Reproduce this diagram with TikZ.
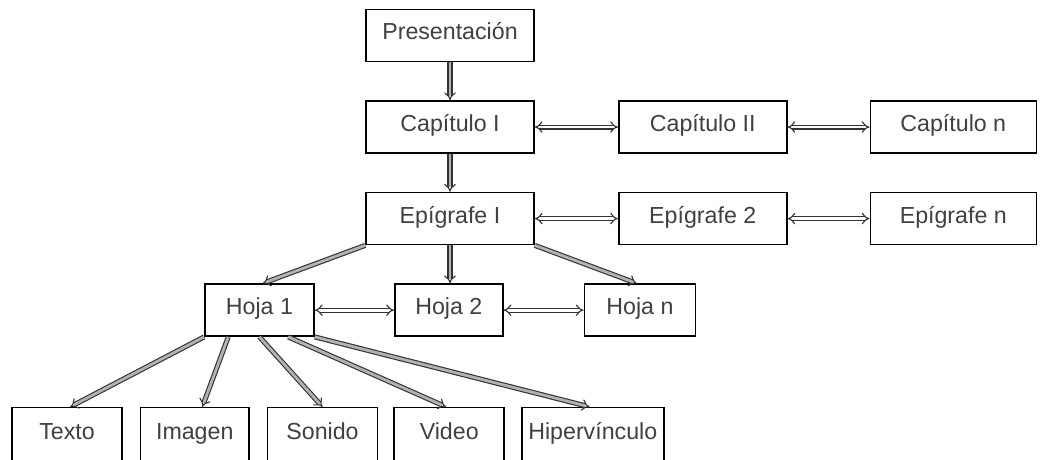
\documentclass[tikz,border=0pt]{standalone}
\usepackage{fontspec}
\setmainfont{Liberation Sans}
\usepackage{tikz}
\usetikzlibrary{arrows.meta,positioning}

\begin{document}
\begin{tikzpicture}[
      blk/.style={draw, line width=1.1pt, fill=white, text=black!75,
                  minimum width=4.2cm, minimum height=1.3cm, inner sep=0pt,
                  text height=1.6ex, text depth=0.4ex,
                  font=\fontsize{16.5}{19}\selectfont, align=center},
      hoja/.style={blk, minimum width=2.73cm},
      item/.style={blk, minimum width=2.75cm, minimum height=1.38cm},
      harr/.style={{Implies}-{Implies}, line width=0.8pt, double=white,
                   double distance=2pt, color=black!80},
      darr/.style={-{Implies}, line width=0.8pt, double=gray!60,
                   double distance=2pt, color=black!80}
  ]
    \useasboundingbox (0,0) rectangle (26,-11.475);
    % columna principal
    \node[blk] (pres) at (11.25,-0.8875) {Presentación};
    \node[blk, below=0.95cm of pres] (cap1) {Capítulo I};
    \node[blk, right=2.08cm of cap1] (cap2) {Capítulo II};
    \node[blk, right=2.05cm of cap2, minimum width=4.15cm] (capn) {Capítulo n};
    \node[blk, below=0.95cm of cap1] (epi1) {Epígrafe I};
    \node[blk, right=2.08cm of epi1] (epi2) {Epígrafe 2};
    \node[blk, right=2.05cm of epi2, minimum width=4.15cm] (epin) {Epígrafe n};
    % hojas
    \node[hoja, below=0.95cm of epi1, xshift=-0.03cm, minimum width=2.7cm] (hoja2) {Hoja 2};
    \node[hoja, left=1.98cm of hoja2] (hoja1) {Hoja 1};
    \node[hoja, right=2cm of hoja2, minimum width=2.78cm] (hojan) {Hoja n};
    % elementos
    \node[item] (texto) at (1.675,-10.88) {Texto};
    \node[item, right=0.42cm of texto, minimum width=2.72cm] (imagen) {Imagen};
    \node[item, right=0.42cm of imagen] (sonido) {Sonido};
    \node[item, right=0.38cm of sonido] (video) {Video};
    \node[item, right=0.4cm of video, minimum width=3.55cm] (hiper) {Hipervínculo};

    \draw[darr] (pres) -- (cap1);
    \draw[darr] (cap1) -- (epi1);
    \draw[harr] (cap1) -- (cap2); \draw[harr] (cap2) -- (capn);
    \draw[harr] (epi1) -- (epi2); \draw[harr] (epi2) -- (epin);
    \draw[darr] (epi1.south west) -- ([xshift=0.08cm]hoja1.north);
    \draw[darr] (epi1.south) -- (epi1.south |- hoja2.north);
    \draw[darr] (epi1.south east) -- ([xshift=-0.08cm]hojan.north);
    \draw[harr] (hoja1) -- (hoja2); \draw[harr] (hoja2) -- (hojan);
    \draw[darr] (hoja1.south west) -- ([xshift=0.08cm]texto.north);
    \draw[darr] ([xshift=-0.78cm]hoja1.south) -- ([xshift=0.19cm]imagen.north);
    \draw[darr] (hoja1.south) -- (sonido.north);
    \draw[darr] ([xshift=0.72cm]hoja1.south) -- ([xshift=-0.08cm]video.north);
    \draw[darr] (hoja1.south east) -- ([xshift=-0.08cm]hiper.north);
  \end{tikzpicture}
\end{document}
